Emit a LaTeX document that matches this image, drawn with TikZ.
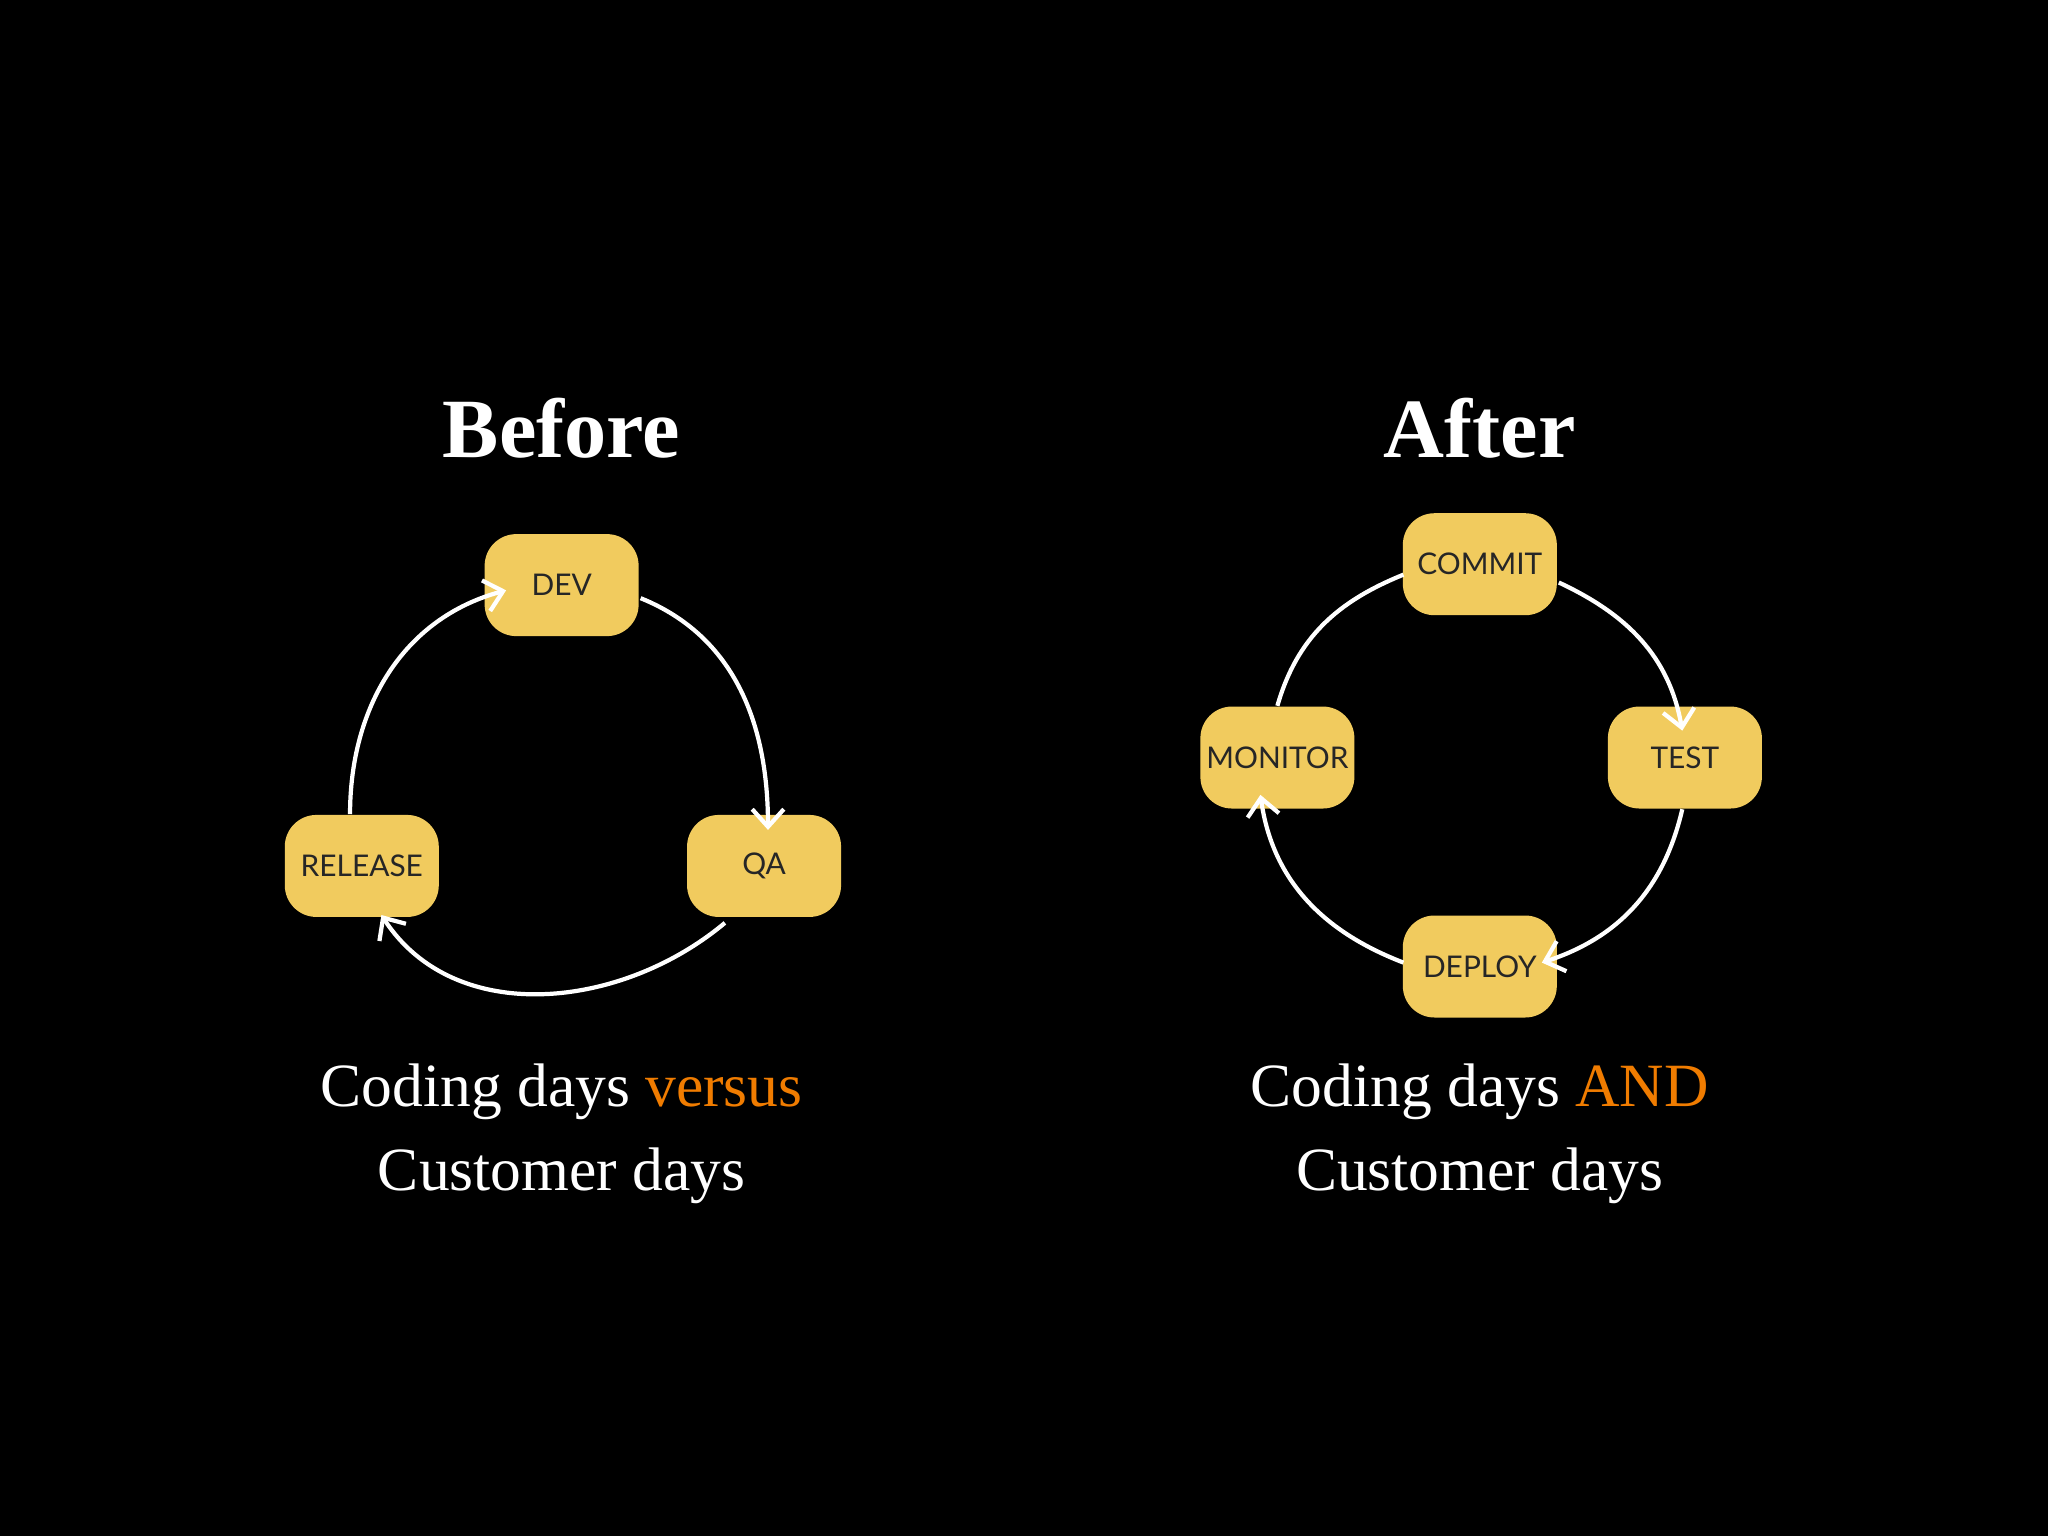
\documentclass[tikz,border=0pt]{standalone}
\usepackage{fontspec}
\setmainfont{Liberation Serif}
\newfontfamily\boxfont{Lato}
\usetikzlibrary{calc,arrows.meta}
\definecolor{boxy}{HTML}{F1CB5E}
\definecolor{orng}{HTML}{F07C00}
\begin{document}
\begin{tikzpicture}[x=0.013061cm,y=0.013061cm,
  stage/.style={fill=boxy,rounded corners=9pt,minimum width=118\pgflinewidth,inner sep=0pt,
    minimum width=1.54cm,minimum height=1.02cm,font=\boxfont\fontsize{8.5}{10}\selectfont,text=black!85},
  flow/.style={draw=white,line width=1.2pt,-{Straight Barb[length=5pt,width=9pt]}},
  plain/.style={draw=white,line width=1.2pt},
  title/.style={text=white,font=\bfseries\fontsize{24}{28}\selectfont},
  caption/.style={text=white,align=center,font=\fontsize{17.5}{24}\selectfont}]
\fill[black] (0,0) rectangle (1568,1176);
\useasboundingbox (0,0) rectangle (1568,1176);
% left
\node[title] (before) at (430,848) {Before};
\node[stage] (dev) at (430,728) {DEV};
\node[stage] (qa) at (585,513) {QA};
\node[stage] (rel) at (277,513) {RELEASE};
\draw[flow] ($(dev.east)+(1,-10)$) to[out=-22,in=90] ($(qa.north)+(3,-12)$);
\draw[flow] ($(qa.south)+(-30,-4)$) to[out=-140,in=-57] ($(rel.south)+(15,2)$);
\draw[flow] ($(rel.north)+(-9,0)$) to[out=90,in=195] ($(dev.west)+(17,-4)$);
\node[caption] (capl) at (430,308) {Coding days \textcolor{orng}{versus}\\Customer days};
% right
\node[title] (after) at (1133,848) {After};
\node[stage] (commit) at (1133,744) {COMMIT};
\node[stage] (test) at (1290,596) {TEST};
\node[stage] (deploy) at (1133,436) {DEPLOY};
\node[stage] (mon) at (978,596) {MONITOR};
\draw[flow] ($(commit.east)+(1,-14)$) to[out=-25,in=100] ($(test.north)+(-2,-19)$);
\draw[flow] ($(test.south)+(-2,0)$) to[out=-103,in=18] ($(deploy.east)+(-12,3)$);
\draw[flow] ($(deploy.west)+(1,3)$) to[out=159,in=-82] ($(mon.south)+(-13,11)$);
\draw[plain] (mon.north) to[out=74,in=202] ($(commit.west)+(1,-8)$);
\node[caption] (capr) at (1133,308) {Coding days \textcolor{orng}{AND}\\Customer days};
\end{tikzpicture}
\end{document}
